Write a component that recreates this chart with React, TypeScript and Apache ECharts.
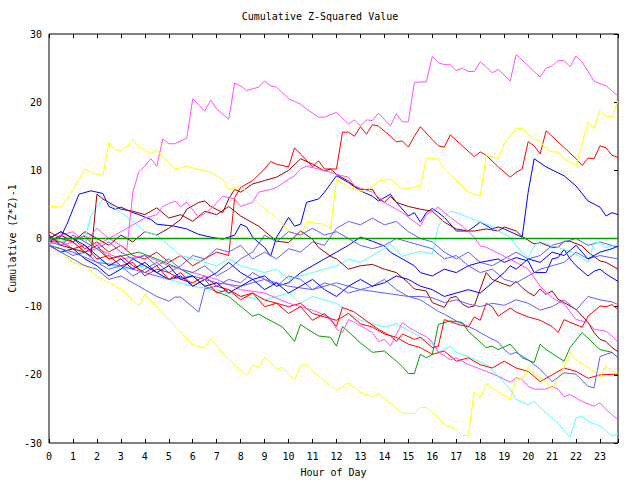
import React, { useEffect, useRef } from "react";
import * as echarts from "echarts";

type Pt = [number, number];

// [hour, cumulative (z*z)-1] pairs
const r1: Pt[] = [[0,0],[0.5,1],[1,0],[1.5,-1.5],[2,-0.5],[2.5,-2],[3,-1],[3.5,-2.5],[4,-3],[4.5,-2],[5,-3.5],[5.5,-2.5],[6,-4],[6.5,-3],[7,-2],[7.5,-2.5],[7.75,6],[8,7.5],[8.5,8.5],[9,10.2],[9.25,11.3],[9.5,10.9],[10,10.5],[10.25,13.3],[10.5,12.4],[11,10.5],[11.25,11.4],[11.5,10.2],[12,10.2],[12.25,15.6],[12.5,15.6],[12.75,15],[13,16.4],[13.25,15.3],[13.5,16.7],[13.75,16.5],[14.25,15],[14.5,14.2],[14.75,14.3],[15,13.4],[15.25,15],[15.5,16.4],[16,14.5],[16.25,13.6],[16.5,13.4],[16.75,15.2],[17.75,12],[18,12.7],[18.25,12.2],[18.75,10.5],[19.25,9],[19.5,9.7],[19.75,10.2],[20,14.2],[20.25,13.6],[20.5,12.4],[20.75,15.8],[22,11.7],[22.25,10.7],[22.5,11.8],[22.75,11.7],[23,13.6],[23.25,13.3],[23.5,12.2],[23.75,11.9]];
const g1: Pt[] = [[0,-0.5],[0.5,-0.5],[1,0],[1.5,0.3],[2,-1.5],[2.5,-3],[3,-2.6],[3.75,-2],[4.5,-3],[5.5,-4.5],[6,-5.5],[6.5,-7],[7,-7.8],[7.5,-8.5],[8.5,-11.4],[8.75,-11.1],[9.75,-13],[10.25,-15.1],[10.5,-12.6],[10.75,-13.2],[11.25,-14.3],[11.75,-14.5],[12,-15.8],[12.25,-12.9],[13,-15.3],[13.5,-16.7],[14,-16.5],[14.5,-18],[14.75,-18.8],[15,-19.8],[15.25,-19.8],[15.5,-17],[15.75,-17.5],[16,-17],[16.25,-12.6],[16.75,-12.1],[17.25,-12.3],[17.5,-13.6],[18.25,-16],[18.5,-15.8],[18.75,-16.3],[19.25,-15.5],[19.75,-17.5],[20.25,-18.2],[20.5,-15.5],[20.75,-16.3],[21.5,-18],[21.75,-16],[22.25,-13.8],[23,-16.3],[23.5,-16.7],[23.75,-17.5]];
const b1: Pt[] = [[0,-0.6],[0.5,0.3],[0.75,2.1],[1,4.3],[1.25,6.5],[1.75,7],[2.25,6.6],[2.5,4.7],[2.75,4.3],[3,4.6],[3.5,3.8],[3.75,3.5],[4.25,2.8],[4.5,2.1],[5.25,1.8],[5.75,1.4],[6.25,0.6],[6.75,0.2],[7.25,-0.1],[7.75,0.5],[8,2.1],[8.25,1.7],[8.5,0.2],[8.75,-0.6],[9,-1.3],[9.25,-2.6],[9.5,0.2],[10,3.1],[10.25,1.8],[10.5,2.1],[10.75,5.3],[11.25,5.8],[11.5,6.8],[12,9.2],[12.5,8.2],[13,7],[13.5,6.2],[13.75,5.5],[14.25,6.5],[14.5,5.3],[15,3.3],[15.25,3.8],[15.5,2.4],[15.75,3.8],[16,4.4],[16.25,3.8],[16.5,3.1],[17,1.1],[17.5,1.1],[18,2.4],[18.5,1.4],[18.75,1.7],[19,1.4],[19.75,0.2],[20,6.8],[20.25,11.7],[20.75,10.5],[21.5,9.2],[22,7.7],[22.5,5.5],[23,4.6],[23.25,3.3],[23.5,3.8],[23.75,3.5]];
const m1: Pt[] = [[0,-0.5],[0.5,0.5],[1,-0.5],[1.5,0.5],[2,-1],[2.5,0],[2.75,-0.5],[3.25,-1.6],[3.5,6.8],[3.75,9.8],[4,10.6],[4.25,11.7],[4.5,10.6],[4.75,14.6],[5,13.9],[5.25,13.9],[5.75,14.7],[6,20.5],[6.5,18.7],[6.75,20.3],[7,19],[7.5,17.5],[7.75,22.8],[8,22.4],[8.25,21.7],[8.75,22.2],[9,23.1],[9.25,22.4],[9.5,22.2],[10,20.5],[10.5,19.7],[10.75,19],[11.25,17.8],[11.5,17.8],[12,18.5],[12.5,16.8],[12.75,17.4],[13,16.5],[13.25,17.4],[13.5,17.3],[13.75,18.4],[14.25,16.5],[14.5,18.3],[14.75,17.1],[15,17.1],[15.25,22.9],[15.75,23],[16,26.7],[16.25,25.8],[16.5,25.5],[16.75,25.5],[17,24.6],[17.25,25],[17.5,24.5],[17.75,24.5],[18,25.9],[18.25,25.2],[18.5,24.3],[18.75,24.8],[19.25,23.1],[19.5,27],[20,25.3],[20.25,24.5],[20.5,23.7],[20.75,25],[21,25.3],[21.25,26.1],[21.5,26.1],[21.75,25.2],[22,26.8],[22.25,25.9],[22.75,23.1],[23,22.7],[23.25,22.4],[23.75,20.9]];
const c1: Pt[] = [[0,-1],[0.5,-2],[1,-1.5],[2,-3],[3,-4.5],[4,-4],[5,-6],[6,-7],[7,-7.5],[8,-8.5],[9,-9],[10,-8],[10.5,-9.5],[11,-8.5],[12,-9.5],[12.5,-11],[13,-12],[13.5,-12.5],[14,-13],[14.5,-12.5],[15,-13.5],[15.5,-14.4],[16,-15.5],[16.25,-16.7],[16.75,-15.8],[17,-16.7],[17.5,-17.3],[18.25,-18.5],[18.75,-20.2],[19.25,-22.1],[19.5,-23.6],[20,-24.4],[20.25,-23.9],[20.75,-25.6],[21.25,-27.1],[21.75,-29.2],[22,-26.3],[22.25,-26.1],[22.5,-26.8],[23,-27.5],[23.5,-29],[23.75,-28.6]];
const dr1: Pt[] = [[0,-0.5],[0.5,0.5],[1,-0.5],[1.5,1],[2,0],[2.5,-1],[3,0.5],[3.5,-0.5],[4,1],[4.5,0.5],[5,1.5],[5.5,2.8],[5.75,4.3],[6.25,5.3],[6.5,5.5],[6.75,4.7],[7.25,3.8],[7.5,5.8],[7.75,7.2],[8,6.8],[8.5,8],[9,8.5],[9.5,9],[10,10],[10.5,11.7],[11,10.9],[11.5,9.9],[11.75,10.2],[12,9.4],[12.5,8.4],[12.75,7.7],[13,7.2],[13.5,7.2],[13.75,5.8],[14,5.3],[14.25,6.2],[14.5,5.3],[15,4.7],[15.5,4.3],[16,4],[16.5,2.4],[17,1.4],[17.5,1.1],[17.75,1.1],[18.25,1.4],[18.75,1.1],[19,1.7],[19.5,1.1],[19.75,0.3],[20.25,-0.8],[20.5,-0.6],[21,-1.3],[21.25,-1.3],[21.5,-0.4],[21.75,-0.4],[22.25,-1.1],[22.5,-2],[23,-3.3],[23.25,-3.5],[23.75,-4.5]];
const sb1: Pt[] = [[0,-1],[0.5,-1.5],[1,-2.5],[1.5,-2],[2,-3.5],[2.5,-4.5],[3,-4],[3.5,-5.5],[4,-4.5],[4.5,-3.5],[5,-5],[5.5,-4],[6,-2.5],[6.5,-3],[7,-1.5],[7.5,-2],[8,-1],[8.5,-3],[9,-2],[9.5,-3],[10,-1.5],[10.5,-2],[11,-0.5],[11.5,-1],[12,1.5],[12.5,2.5],[13,2],[13.5,3],[14,2],[14.5,2.5],[15,1],[15.5,0],[16,-0.5],[16.5,-2],[17,-3],[17.5,-2],[18,-3.5],[18.5,-4],[19,-3],[19.5,-2],[20,-3],[20.5,-2.5],[21,-1],[21.5,-0.5],[22,0],[22.5,-1],[23,-0.5],[23.75,-1.3]];
const y1: Pt[] = [[0,4.7],[0.5,4.6],[1,7.2],[1.5,10.2],[1.75,9.7],[2.25,9.2],[2.5,14.1],[2.75,13],[3,12.9],[3.25,13.5],[3.5,14.6],[3.75,13.4],[4.25,12.5],[4.5,13],[4.75,11.9],[5.25,10.2],[5.75,10.6],[6.75,9.7],[7.25,8.7],[7.5,7.2],[8,7.7],[9,4.3],[9.5,3.1],[10,1.1],[10.5,0.3],[10.75,2.4],[11.5,2.1],[11.75,1.4],[12,8.7],[12.5,7.5],[13.25,6.8],[13.75,8.4],[14.25,8.7],[14.75,7.2],[15.5,7.7],[15.75,11.7],[16.25,11.7],[16.5,10.2],[17.5,6.8],[18,6.2],[18.25,12.2],[18.75,11.7],[19,13.9],[19.5,16.2],[19.75,16.1],[20.25,14.6],[20.5,14.3],[20.75,13.1],[21,12.7],[21.25,12.7],[21.5,11.7],[22,10.7],[22.5,17.1],[22.75,16.1],[23,19],[23.25,18],[23.5,17.8],[23.75,20.2]];
const r2: Pt[] = [[0,0],[0.5,-0.5],[1,-1.5],[1.5,-1],[2,-3],[2.5,-2.5],[3,-4],[3.5,-3.5],[4,-5.5],[4.5,-4.5],[5,-5],[5.5,-6],[6,-6.5],[6.5,-5.5],[7,-7],[7.5,-7.5],[8,-8.5],[8.5,-8],[9,-9],[9.5,-9.5],[10,-10],[10.5,-9.5],[11,-11],[11.5,-11.5],[12,-12],[12.5,-11],[13,-12.5],[13.5,-13],[14,-14],[14.5,-14.5],[15,-15.5],[15.5,-16],[16,-17],[16.5,-16.5],[17,-18],[17.5,-17.5],[18,-18.5],[18.5,-19],[19,-18],[19.5,-19],[20,-19.5],[20.5,-21],[21,-20],[21.5,-19],[22,-19.5],[22.5,-20.5],[23,-20],[23.75,-19.9]];
const b2: Pt[] = [[0,-1],[0.5,-2],[1,-1.5],[1.5,-3],[2,-4],[2.5,-5.5],[3,-4.5],[3.5,-3],[4,-4],[4.5,-5],[5,-6],[5.5,-5.5],[6,-7],[6.5,-6],[7,-5],[7.5,-3.5],[8,-5],[8.5,-6],[9,-5.5],[9.5,-7],[10,-6.5],[10.5,-5],[11,-4],[11.5,-3],[12,-2],[12.5,-1],[13,0.2],[13.5,-0.4],[14,-1.1],[14.25,-2],[14.75,-3],[15.25,-4],[15.5,-5],[16,-5.5],[16.5,-4.5],[17,-5],[17.5,-4],[18,-3.5],[18.75,-3],[19,-3.5],[19.5,-2.8],[20,-3.3],[20.25,-5],[20.75,-5],[21,-3],[21.25,-2.8],[21.5,-1.6],[21.75,-3],[22,-4],[22.5,-5.5],[22.75,-4.8],[23,-4.5],[23.25,-5.2],[23.75,-6.3]];
const m2: Pt[] = [[0,0],[0.5,-1],[1,-0.5],[1.5,-2],[2,-1.5],[3,-3],[4,-2.5],[5,-4],[6,-5],[7,-6],[8,-7.5],[9,-8],[10,-9.5],[11,-10.5],[11.75,-11.6],[12,-13.3],[12.25,-13.8],[12.5,-11.9],[12.75,-12.3],[13.5,-13.8],[13.75,-15.1],[14,-14.8],[14.25,-15.8],[14.75,-12.3],[15,-13],[15.5,-14],[15.75,-14.4],[16,-15.2],[16.25,-16.6],[16.75,-17.8],[17,-17.5],[17.5,-18.5],[17.75,-18.8],[18.25,-19.5],[18.75,-20.2],[19.25,-21.1],[19.5,-20.4],[19.75,-20.7],[20,-21.7],[20.25,-22.1],[20.75,-22.1],[21,-21.7],[21.25,-22.1],[21.5,-23.2],[21.75,-22.9],[22.25,-23.9],[22.75,-24.6],[23,-24.1],[23.25,-25.1],[23.75,-26.6]];
const c2: Pt[] = [[0,0.5],[0.5,-0.5],[1,0],[1.5,0],[1.75,3.3],[2,4.6],[2.25,5.8],[2.75,4.5],[3.5,2.5],[4,1],[4.5,0.5],[5,-1],[5.5,-2.5],[6,-3],[7,-4],[7.5,-3],[8,-4],[9,-5],[9.5,-4.5],[10,-6],[11,-5],[12,-4],[12.5,-3],[13,-3.5],[14,-1.5],[14.25,-0.8],[14.75,-2.6],[15.25,-2.1],[15.5,-1.9],[16,-2.3],[16.25,1.8],[16.5,3.1],[16.75,4],[17,3.8],[17.5,3.1],[18,2.4],[18.5,1.8],[18.75,1.1],[19.25,0.2],[19.5,-1.1],[20,-2.8],[20.25,-1.1],[20.5,-0.4],[21,-1.1],[21.25,-1.3],[21.75,-1.9],[22,-2.3],[22.5,-3.5],[22.75,-0.6],[23,-0.6],[23.25,-1.3],[23.75,-0.9]];
const dr2: Pt[] = [[0,0.5],[0.5,-1],[1,-1.5],[1.5,-2],[1.75,-2.6],[2,6.5],[2.25,5.8],[2.5,5.3],[3,4.3],[3.5,4],[4,3.5],[4.5,4.5],[5,3],[5.5,3.5],[6,2.5],[6.5,4],[7,3.5],[7.5,4.7],[8,3.3],[8.75,1.8],[9,1.1],[9.5,-0.4],[10,-0.6],[10.5,1.1],[11,-0.1],[11.25,-1.3],[11.75,-2.6],[12,-3],[12.5,-4.5],[13,-4],[13.5,-3.8],[14,-4.5],[14.5,-5],[15,-6.5],[15.25,-7.4],[15.75,-7.7],[16,-9.4],[16.5,-10.1],[16.75,-8.7],[17,-8.5],[17.25,-9.6],[17.5,-10.1],[17.75,-9.9],[18,-7.4],[18.25,-5],[18.5,-6],[19,-6.7],[19.25,-7],[19.5,-6.3],[19.75,-7.2],[20,-7.9],[20.25,-8.4],[20.5,-7.4],[20.75,-8.2],[21,-7.7],[21.25,-8.9],[22,-10.4],[22.5,-12.3],[22.75,-13.8],[23,-14.8],[23.25,-15.1],[23.5,-16],[23.75,-16.6]];
const sb2: Pt[] = [[0,-0.5],[0.5,-1],[1,0.5],[1.5,-0.5],[2,-1.5],[2.5,-0.5],[3,-2],[3.5,-3],[4,-2.5],[4.5,-4],[5,-3],[5.5,-4.5],[6,-5],[6.5,-4],[7,-5.5],[7.5,-4.5],[8,-3],[8.5,-2],[9,0.5],[9.5,-0.5],[10,1],[10.5,0.5],[11,1.5],[11.5,0.5],[12,1],[12.5,0],[13,-1],[13.5,-1.5],[14,-1],[14.5,0],[15,-0.5],[15.5,-1],[16,-1.5],[16.5,-3],[17,-2.5],[17.5,-4],[18,-5],[18.5,-4.5],[19,-6],[19.5,-6.5],[20,-5.5],[20.5,-4.5],[21,-4],[21.5,-3.5],[22,-2],[22.5,-3],[23,-2.5],[23.75,-3]];
const y2: Pt[] = [[0,-0.5],[0.5,-2],[1,-3.5],[1.5,-4],[2,-5.5],[2.5,-6.5],[3,-7.4],[3.75,-9.9],[4,-8.2],[5,-11.9],[6,-15.6],[6.5,-16.1],[6.75,-14.7],[7.5,-17.8],[8.25,-20.1],[8.5,-18.6],[8.75,-18.9],[9,-17.4],[9.5,-19.2],[9.75,-18.9],[10.25,-20.8],[10.5,-18.6],[10.75,-18.5],[11,-19.5],[12,-22.3],[12.5,-21.2],[13,-22.6],[13.5,-23.2],[13.75,-22.8],[14.75,-25.6],[15.25,-25.7],[15.5,-24.8],[15.75,-24.8],[16.25,-26.3],[16.5,-27.3],[17,-28],[17.25,-28.9],[17.5,-28.9],[17.75,-22.5],[18,-23.4],[18.25,-21.3],[18.75,-22.5],[19.25,-23.6],[19.5,-20.5],[19.75,-20.7],[20,-18.9],[20.25,-19.9],[20.75,-21.1],[21,-22.1],[21.5,-18.9],[21.75,-16.7],[22,-17.8],[22.5,-18.9],[22.75,-19.5],[23,-20.4],[23.25,-18.6],[23.5,-19.5],[23.75,-19.7]];
const r3: Pt[] = [[0,1],[0.5,0],[1,-0.5],[1.5,-2],[2,-1],[2.5,-3],[3,-2.5],[3.5,-4],[4,-5],[4.5,-4],[5,-6],[5.5,-5],[6,-7],[6.5,-6],[7,-8],[7.5,-7.5],[8,-9],[8.5,-8],[9,-10],[9.5,-9.5],[10,-11],[10.5,-10],[11,-12],[11.5,-11],[12,-12.9],[12.25,-10.1],[12.75,-10.8],[13.25,-12.1],[13.75,-13.3],[14.25,-14.3],[14.5,-15.1],[14.75,-14],[15.25,-14.8],[15.5,-14.5],[16,-16],[16.25,-15.8],[16.5,-11.9],[16.75,-12.2],[17,-12.5],[17.5,-13],[17.75,-11.5],[18,-12],[18.25,-9.5],[18.5,-10],[18.75,-11.4],[19.25,-10.2],[19.5,-10.8],[20,-11.5],[20.5,-12],[21,-12.9],[21.25,-13.8],[21.5,-11.9],[21.75,-12.3],[22.25,-13],[22.5,-11.4],[23,-9.9],[23.25,-10],[23.5,-9.7],[23.75,-10.4]];
const m3: Pt[] = [[0,-1],[0.5,0.5],[1,1],[1.5,-0.5],[2,1.5],[2.5,0],[3,1],[3.5,2],[4,3],[4.5,3.5],[4.75,4.7],[5.25,5.5],[5.5,4.7],[5.75,5.3],[6.25,3.1],[6.75,4.3],[7.25,6.2],[7.75,5.8],[8,4.7],[8.5,5.3],[8.75,6.8],[9.25,7.2],[9.5,7.5],[10,8.7],[10.25,9.2],[10.5,10.2],[10.75,10.6],[11.25,10.2],[11.75,9.7],[12,9.4],[12.5,9],[12.75,7.7],[13.5,6.8],[14,5.3],[14.75,3.8],[15.5,1.8],[15.75,3.5],[16.25,4.6],[16.5,3.8],[16.75,3.1],[17.25,1.8],[17.75,0.2],[18,-1.1],[18.25,-1.3],[19,-2.6],[19.5,-3.5],[20,-4.5],[20.5,-7],[21,-8.7],[21.5,-9.6],[22,-11.9],[22.5,-12.3],[22.75,-13.3],[23.25,-13.6],[23.5,-14.3],[23.75,-15.2]];
const sb3: Pt[] = [[0,-1],[0.5,-2],[1,-3],[1.5,-4],[2,-4.5],[2.5,-6],[3,-5.5],[3.5,-6.5],[4,-7.5],[4.5,-8.5],[5,-9.2],[5.25,-8.6],[5.5,-8.6],[6.25,-10.8],[6.5,-7.4],[7,-7],[7.5,-6],[8,-6.5],[8.5,-5],[9,-6],[9.5,-7],[10,-5.5],[10.5,-6],[11,-7.5],[11.5,-6.5],[12,-7],[12.5,-8],[13,-7.5],[13.5,-7],[14,-6],[14.5,-7.5],[15,-8.5],[15.5,-8.5],[16,-8.7],[16.5,-9.4],[17,-9],[17.5,-9.6],[18,-10],[18.5,-9.5],[19,-9.8],[19.5,-9],[20,-9.5],[20.5,-10.5],[21,-10],[21.5,-9],[22,-10.5],[22.5,-8.5],[23,-9],[23.5,-9.3],[23.75,-9.7]];
const sb4: Pt[] = [[0,-1],[1,-2],[2,-3.5],[3,-4],[4,-5],[5,-6],[6,-5.5],[7,-6.5],[8,-7],[9,-6],[10,-7],[11,-7.5],[12,-6.5],[13,-7.5],[14,-8],[15,-8.5],[15.5,-9],[16.25,-10.7],[16.5,-11.1],[17,-12.1],[17.5,-12.9],[17.75,-13.3],[18.25,-14.3],[18.75,-15.2],[19,-16.3],[19.25,-17],[19.5,-16.7],[20,-17.8],[20.5,-19.2],[21,-21],[21.5,-19.7],[22,-19.9],[22.5,-21.7],[22.75,-21.9],[23,-17.3],[23.25,-17],[23.5,-16.7],[23.75,-17.5]];
const b3: Pt[] = [[0,0],[0.5,1],[1,0],[1.5,-1],[2,-2.5],[2.5,-4],[3,-3],[3.5,-4.5],[4,-3.5],[4.5,-5],[5,-4],[5.5,-6],[6,-5.5],[6.5,-7],[7,-6.5],[7.5,-8],[8,-7],[8.5,-6],[9,-7.5],[9.5,-6.5],[10,-8],[10.5,-7],[11,-6],[11.5,-7.5],[12,-8.5],[12.5,-7],[13,-6],[13.5,-7],[14,-6.5],[14.5,-5.5],[15,-6],[15.5,-7],[16,-7.5],[16.5,-8.5],[17,-8],[17.5,-7.5],[18,-8],[18.5,-6.5],[19,-5],[19.25,-4],[19.5,-4.5],[20,-3],[20.5,-3.5],[21,-2],[21.5,-2.5],[22,-1],[22.5,-3],[23,-2],[23.5,-1.5],[23.75,-1.1]];
const zeroRef: Pt[] = [[0,0],[23.75,0]];

const seriesNames = ["r1","g1","b1","m1","c1","dr1","sb1","y1","r2","b2","m2","c2","dr2","sb2","y2","r3","m3","sb3","sb4","b3"];
const seriesData: Pt[][] = [r1,g1,b1,m1,c1,dr1,sb1,y1,r2,b2,m2,c2,dr2,sb2,y2,r3,m3,sb3,sb4,b3];

const RED = "#ff0000", GREEN = "#00a000", BLUE = "#0000ff", MAGENTA = "#ff50ff",
  CYAN = "#50ffff", DARKRED = "#a00000", SLATE = "#6060ff", YELLOW = "#ffff00";
const seriesColors = [RED,GREEN,BLUE,MAGENTA,CYAN,DARKRED,SLATE,YELLOW,RED,BLUE,MAGENTA,CYAN,DARKRED,SLATE,YELLOW,RED,MAGENTA,SLATE,SLATE,BLUE];

const FONT = "DejaVu Sans Mono";

export default function App() {
  const ref = useRef<HTMLDivElement>(null);
  useEffect(() => {
    if (!ref.current) return;
    const chart = echarts.init(ref.current, null, { renderer: "svg" });
    const txt = { fontFamily: FONT, fontSize: 10, color: "#000" };
    const series: any[] = seriesData.map((d, i) => ({
      name: seriesNames[i],
      type: "line",
      data: d,
      showSymbol: false,
      symbol: "none",
      lineStyle: { width: 1, color: seriesColors[i] },
      itemStyle: { color: seriesColors[i] },
      silent: true,
    }));
    series.push({
      name: "zero",
      type: "line",
      data: zeroRef,
      symbol: "none",
      lineStyle: { width: 1.5, color: GREEN },
      silent: true,
    });
    const tick = { show: true, inside: true, length: 4, lineStyle: { color: "#000", width: 1 } };
    chart.setOption({
      animation: false,
      backgroundColor: "#ffffff",
      title: {
        text: "Cumulative Z-Squared Value",
        left: "center",
        top: 6,
        textStyle: { ...txt, fontWeight: "normal" },
      },
      grid: {
        left: 49, right: 22, top: 34, bottom: 37,
        containLabel: false,
        outerBoundsMode: "none",
        show: true, borderColor: "#000", borderWidth: 1, backgroundColor: "transparent",
      },
      xAxis: [
        {
          type: "value", min: 0, max: 23.75, interval: 1, position: "bottom",
          name: "Hour of Day", nameLocation: "middle", nameGap: 24,
          nameTextStyle: txt,
          axisLine: { show: false, onZero: false },
          axisTick: tick,
          axisLabel: { ...txt, margin: 8, formatter: (v: number) => (Number.isInteger(v) ? String(v) : "") },
          splitLine: { show: false },
        },
        {
          type: "value", min: 0, max: 23.75, interval: 1, position: "top",
          axisLine: { show: false, onZero: false },
          axisTick: tick,
          axisLabel: { show: false },
          splitLine: { show: false },
        },
      ],
      yAxis: [
        {
          type: "value", min: -30, max: 30, interval: 10, position: "left",
          name: "Cumulative (Z*Z)-1", nameLocation: "middle", nameGap: 32, nameRotate: 90,
          nameMoveOverlap: false,
          nameTextStyle: txt,
          axisLine: { show: false, onZero: false },
          axisTick: { show: false },
          axisLabel: { ...txt, margin: 7 },
          splitLine: { show: false },
        },
        {
          type: "value", min: -30, max: 30, interval: 10, position: "right",
          axisLine: { show: false, onZero: false },
          axisTick: tick,
          axisLabel: { show: false },
          splitLine: { show: false },
        },
      ],
      series,
    });
    return () => chart.dispose();
  }, []);
  return (
    <div
      ref={ref}
      style={{ position: "fixed", left: 0, top: 0, width: 640, height: 480, background: "#fff" }}
    />
  );
}
